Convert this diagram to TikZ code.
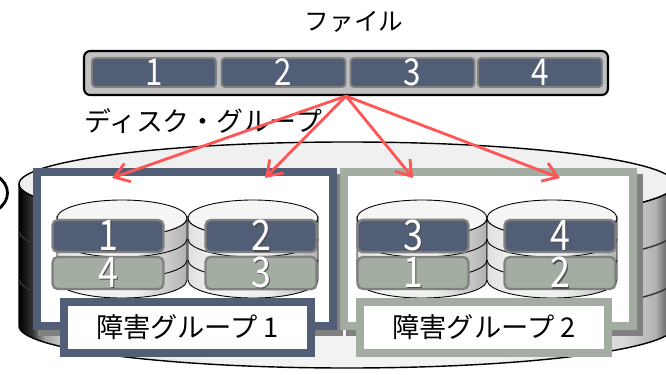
\documentclass[tikz,border=0pt]{standalone}
\usepackage{fontspec}
\setmainfont{Noto Sans CJK JP}
\newfontfamily\numfont[FakeStretch=0.85]{Noto Sans CJK JP}
\usetikzlibrary{arrows.meta}

\definecolor{slate}{RGB}{82,93,118}
\definecolor{sage}{RGB}{164,173,161}
\definecolor{rimgray}{RGB}{128,128,128}
\definecolor{arrowred}{RGB}{255,85,85}
\definecolor{bargray}{RGB}{192,192,192}

% side of the big drum and of the small disks
\pgfdeclarehorizontalshading{drum}{100bp}{color(0bp)=(black); color(25bp)=(black); color(26bp)=(black!80); color(27bp)=(gray!70); color(29bp)=(gray!30); color(40bp)=(gray!10); color(62bp)=(gray!10); color(71bp)=(gray!30); color(73.5bp)=(gray!60); color(75bp)=(black!80); color(100bp)=(black!80)}
\pgfdeclarehorizontalshading{platter}{100bp}{color(0bp)=(gray!25); color(25bp)=(gray!25); color(35bp)=(gray!10); color(55bp)=(gray!12); color(75bp)=(gray!60); color(100bp)=(gray!60)}

\newcommand\dropnum[1]{\rlap{\kern0.8pt\raisebox{-0.8pt}{\color{black!70}#1}}#1}

\begin{document}
\begin{tikzpicture}[x=0.02cm, y=-0.02cm,
  >={Straight Barb[length=8pt,width=11pt]},
  seg/.style={draw=rimgray, line width=1.1pt, fill=slate, rounded corners=2pt,
    minimum width=2.48cm, minimum height=0.58cm, inner sep=0pt, text=white,
    font=\numfont\fontsize{21}{21}\selectfont},
  part/.style={draw=rimgray, line width=1.3pt, fill=#1, rounded corners=3pt,
    minimum width=2.22cm, minimum height=0.64cm, inner sep=0pt, text=white,
    font=\numfont\fontsize{24}{24}\selectfont},
  frame/.style={line width=4.4pt, draw=#1, fill=white},
  link/.style={->, draw=arrowred, line width=1.6pt}]

\useasboundingbox (0,0) rectangle (666,375);

% disk group drum
\shade[shading=drum, draw=black, line width=0.8pt] (19,184) -- (19,326)
  arc[start angle=180, end angle=0, x radius=328, y radius=42] -- (675,184)
  arc[start angle=0, end angle=180, x radius=328, y radius=42] -- cycle;
\foreach \y in {231,279}
  \draw[line width=0.8pt, black!80] (19,\y) arc[start angle=180, end angle=0, x radius=328, y radius=42];
\filldraw[fill=gray!12, line width=0.8pt] (347,184) ellipse [x radius=328, y radius=42];

\draw[line width=1.6pt] (-3,176) .. controls (11,185) and (11,201) .. (-3,210);

% fault groups
\draw[line width=4.4pt, rimgray] (42,178) rectangle (339,332);
\draw[frame=slate] (37,172) rectangle (333,326);
\draw[line width=4.4pt, rimgray] (350,178) rectangle (639,332);
\draw[frame=sage] (344,172) rectangle (633,326);

% disks
\foreach \cx in {122,253,422,552} {
  \shade[shading=platter, draw=black, line width=0.5pt] (\cx-65,218) -- (\cx-65,280)
    arc[start angle=180, end angle=0, x radius=65, y radius=18] -- (\cx+65,218)
    arc[start angle=0, end angle=180, x radius=65, y radius=18] -- cycle;
  \foreach \y in {239,260}
    \draw[line width=0.5pt] (\cx-65,\y) arc[start angle=180, end angle=0, x radius=65, y radius=18];
  \filldraw[fill=gray!8, line width=0.5pt] (\cx,218) ellipse [x radius=65, y radius=18];
}

\node[part=slate] (a1) at (108,236) {\dropnum{1}};
\node[part=sage] (a4) at (108,273) {\dropnum{4}};
\node[part=slate] (b2) at (261,236) {\dropnum{2}};
\node[part=sage] (b3) at (261,273) {\dropnum{3}};
\node[part=slate] (c3) at (413,236) {\dropnum{3}};
\node[part=sage] (c1) at (413,273) {\dropnum{1}};
\node[part=slate] (d4) at (560,236) {\dropnum{4}};
\node[part=sage] (d2) at (560,273) {\dropnum{2}};

\draw[frame=slate] (64,302) rectangle node[midway, font=\fontsize{15.5}{15.5}\selectfont] (lbl1) {障害グループ 1} (311,353);
\draw[frame=sage] (360,302) rectangle node[midway, font=\fontsize{15.5}{15.5}\selectfont] (lbl2) {障害グループ 2} (608,353);

% the file and its blocks
\node[draw, line width=1.2pt, fill=bargray, rounded corners=3.5pt,
  minimum width=10.48cm, minimum height=0.88cm] (file) at (346,73) {};
\node[seg] (s1) at (154,72.5) {1};
\node[seg] (s2) at (283.5,72.5) {2};
\node[seg] (s3) at (412.5,72.5) {3};
\node[seg] (s4) at (540,72.5) {4};

\node[font=\fontsize{14}{14}\selectfont] (title) at (354,22) {ファイル};
\node[anchor=west, font=\fontsize{15.3}{15.3}\selectfont] (group) at (78,121) {ディスク・グループ};

\coordinate (t1) at (112,178);
\coordinate (t2) at (265,178);
\coordinate (t3) at (413,178);
\coordinate (t4) at (560,178);
\foreach \t in {t1,t2,t3,t4}
  \draw[link] (file.south) -- (\t);

\end{tikzpicture}
\end{document}
